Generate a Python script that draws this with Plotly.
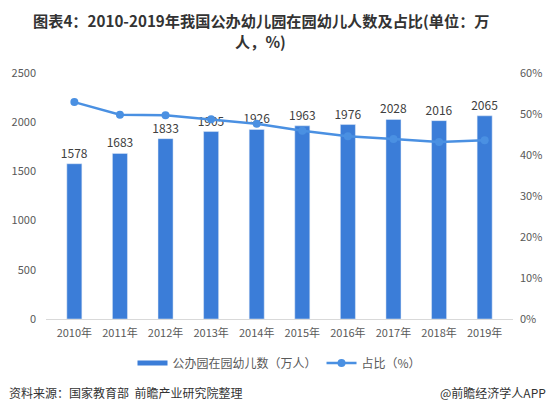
import plotly.graph_objects as go

years = ["2010年", "2011年", "2012年", "2013年", "2014年", "2015年", "2016年", "2017年", "2018年", "2019年"]
enrollment = [1578, 1683, 1833, 1905, 1926, 1963, 1976, 2028, 2016, 2065]
share = [52.9, 49.8, 49.7, 48.7, 47.6, 45.9, 44.6, 43.9, 43.2, 43.6]
left_ticks = [0, 500, 1000, 1500, 2000, 2500]
right_ticks = [0, 10, 20, 30, 40, 50, 60]

FONT = "Noto Sans CJK SC"
BAR_C = "#3b7dd8"
LINE_C = "#4a90e2"

fig = go.Figure()
fig.add_trace(go.Bar(
    x=years, y=enrollment, name="公办园在园幼儿数（万人）", showlegend=False,
    marker_color=BAR_C, width=0.33,
    text=[str(v) for v in enrollment], textposition="outside", constraintext="none",
    textfont=dict(size=12, color="#404040", family=FONT), cliponaxis=False,
))
# legend proxy for the bar series (wide flat rectangle like the reference)
fig.add_trace(go.Scatter(
    x=[None], y=[None], name="公办园在园幼儿数（万人）", mode="lines",
    line=dict(color=BAR_C, width=5),
))
fig.add_trace(go.Scatter(
    x=years, y=share, name="占比（%）", yaxis="y2", mode="lines+markers",
    line=dict(color=LINE_C, width=2.5), marker=dict(size=8, color=LINE_C),
))
fig.update_layout(
    width=556, height=413, plot_bgcolor="white", paper_bgcolor="white",
    margin=dict(l=38, r=51, t=65, b=102, autoexpand=False),
    font=dict(family=FONT, color="#595959", size=11),
    xaxis=dict(showline=True, linecolor="#d9d9d9", linewidth=1, ticks="", showgrid=False,
               ticklabelstandoff=4, tickfont=dict(size=11, color="#595959")),
    yaxis=dict(range=[0, 2500], tickvals=left_ticks, showgrid=False, zeroline=False,
               showline=False, ticks="", ticklabelstandoff=9,
               tickfont=dict(size=11, color="#595959")),
    yaxis2=dict(range=[0, 60], tickvals=right_ticks, ticktext=[f"{v}%" for v in right_ticks],
                overlaying="y", side="right", showgrid=False, zeroline=False, ticks="",
                ticklabelstandoff=6, tickfont=dict(size=11, color="#595959")),
    legend=dict(orientation="h", x=0.5, xanchor="center", y=-0.179, yanchor="middle",
                font=dict(size=12, color="#595959"), tracegroupgap=0),
    bargap=0.5,
    annotations=[
        dict(text="<b>图表4：2010-2019年我国公办幼儿园在园幼儿人数及占比(单位：万</b>",
             xref="paper", yref="paper", x=0.4625, y=1.2154, xanchor="center", yanchor="middle",
             showarrow=False, font=dict(size=15.2, color="#333333", family=FONT)),
        dict(text="<b>人，%)</b>",
             xref="paper", yref="paper", x=0.46, y=1.13, xanchor="center", yanchor="middle",
             showarrow=False, font=dict(size=15.2, color="#333333", family=FONT)),
        dict(text="资料来源：国家教育部  前瞻产业研究院整理", xref="paper", yref="paper",
             x=-0.084, y=-0.297, xanchor="left", yanchor="middle", showarrow=False,
             font=dict(size=12, color="#333333", family=FONT)),
        dict(text="@前瞻经济学人APP", xref="paper", yref="paper",
             x=1.074, y=-0.297, xanchor="right", yanchor="middle", showarrow=False,
             font=dict(size=12, color="#333333", family=FONT)),
    ],
)
fig.write_html("out.html")
